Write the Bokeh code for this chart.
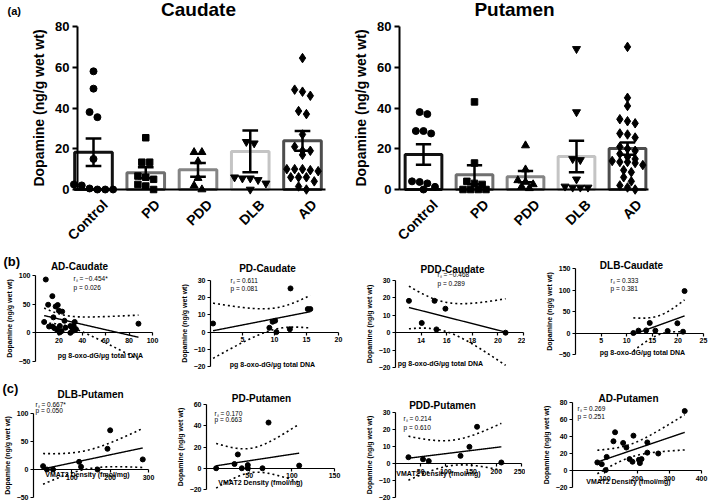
import numpy as np
from bokeh.plotting import figure
from bokeh.layouts import column, row
from bokeh.models import Label, FixedTicker, Range1d
from bokeh.embed import file_html
from bokeh.resources import INLINE

FONT = "Liberation Sans"

# ---------------- data ----------------
GROUPS = ["Control", "PD", "PDD", "DLB", "AD"]

caudate_control = [58, 49.5, 38, 35.5, 15, 2.5, 0.5, 0, 0, 0, 2]
caudate_pd = [25.4, 13.4, 13.4, 6.6, 6, 5, 2.5, 1.7, 0]
caudate_pdd = [18.3, 18.3, 13.8, 5.6, 1.9, 0]
caudate_dlb = [97.6, 23.4, 22.7, 6, 5.5, 5.5, 4.7, 3, 0]
caudate_ad = [92, 64.5, 49, 48, 46, 38.5, 37, 27, 21, 19, 19, 17, 10, 10, 10,
              9.5, 9, 6, 6, 6, 4, 1.5, 0]

putamen_control = [38, 37, 28.7, 28.7, 27.5, 4, 3.7, 3, 1.3, 0]
putamen_pd = [43, 13, 4, 3, 2.5, 0, 0, 0, 0]
putamen_pdd = [21.6, 9.8, 4.5, 3.7, 2.5, 1.4, 0.6]
putamen_dlb = [69, 38, 15, 14.5, 5, 1.5, 1, 1, 1]
putamen_ad = [70, 45, 41, 34.5, 33.5, 32.5, 27.5, 27, 25.5, 21, 20, 19, 17.5, 16,
              15, 14, 13.5, 13.5, 13, 12, 9.5, 8.5, 6, 4, 2, 1, 0]

ad_caudate_x = [8.8, 10.8, 14.4, 17.2, 19, 15.3, 20, 22.8, 24.8, 7.4, 11.6, 14.4, 16.3,
                18.6, 20.6, 22.3, 20.8, 25.6, 29.8, 31.2, 32.6, 29.8, 33.5, 34.6, 32, 88]
ad_caudate_y = [93, 49, 64, 46, 48.5, 27, 38.6, 37, 21, 19, 11, 11, 8,
                5, 0.6, 3, 12, 9, 12, 9, 12, 0, 19, 6.4, 3.5, 16]

pd_caudate_x = [0.4, 9.2, 9.7, 10.1, 10.3, 12.4, 12.5, 15.2, 15.6]
pd_caudate_y = [5, 2.5, 6, 6.6, 0, 1.7, 25.4, 13.4, 13.4]

pdd_caudate_x = [13.05, 14.05, 15.05, 15.2, 15.9, 20.6]
pdd_caudate_y = [18.3, 5.6, 18.3, 1.9, 13.8, 0]

dlb_caudate_x = [11.3, 12.3, 13.8, 14.5, 15.6, 18, 19.9, 21, 21.3]
dlb_caudate_y = [0, 5.5, 6, 23.4, 5.5, 4.7, 22.7, 3, 97.6]

dlb_putamen_x = [25, 35, 51, 119, 124, 167, 193, 200, 285]
dlb_putamen_y = [6, 0, 0, 13.7, 4.8, 0, 37, 70, 18]

pd_putamen_x = [11.3, 32.8, 36.7, 41.4, 48.4, 48.4, 65.6, 72.7, 108.6]
pd_putamen_y = [0, 4, 13, 0, 3, 0, 0, 43, 2.5]

pdd_putamen_x = [25.7, 54.6, 66, 129, 146.7, 161.8, 210]
pdd_putamen_y = [3.7, 2.5, 1.4, 4.5, 9.8, 21.6, 0.6]

ad_putamen_x = [77, 90.7, 103, 106, 127, 132, 157, 167, 177, 186, 189, 206, 209, 214,
                232, 232, 266, 348]
ad_putamen_y = [9.5, 7.5, 0.5, 16, 34.4, 45, 32.4, 27, 13.4, 10.3, 41, 12.6, 8.7, 13.4,
                33, 21, 20, 70]

# ---------------- styles ----------------
GROUP_MARKERS = ["circle", "square", "triangle", "inverted_triangle", "diamond"]
GROUP_SIZES = [7, 6.5, 8, 8, 9.5]
GROUP_COLORS = ["#111111", "#707070", "#858585", "#c4c4c4", "#4d4d4d"]

T95 = {1: 12.706, 2: 4.303, 3: 3.182, 4: 2.776, 5: 2.571, 6: 2.447, 7: 2.365, 8: 2.306,
       9: 2.262, 10: 2.228, 11: 2.201, 12: 2.179, 13: 2.160, 14: 2.145, 15: 2.131,
       16: 2.120, 17: 2.110, 18: 2.101, 19: 2.093, 20: 2.086, 21: 2.080, 22: 2.074,
       23: 2.069, 24: 2.064, 25: 2.060, 26: 2.056, 27: 2.052, 28: 2.048, 29: 2.045, 30: 2.042}


def make_fig(w, h, xmap, ymap):
    """Frame fills the whole canvas; ranges chosen so that given values land on given pixels."""
    (xv0, xp0), (xv1, xp1) = xmap
    sx = (xv1 - xv0) / (xp1 - xp0)
    x_start = xv0 - xp0 * sx
    (yv0, yp0), (yv1, yp1) = ymap
    sy = (yv1 - yv0) / (yp0 - yp1)
    y_end = yv1 + yp1 * sy
    p = figure(width=w, height=h,
               x_range=Range1d(x_start, x_start + w * sx),
               y_range=Range1d(y_end - h * sy, y_end),
               output_backend="svg", toolbar_location=None,
               min_border=0, min_border_left=0, min_border_right=0,
               min_border_top=0, min_border_bottom=0)
    p.grid.visible = False
    p.outline_line_color = None
    p.background_fill_color = "white"
    p.border_fill_color = "white"
    fx = lambda px: x_start + px * sx
    return p, fx


def add_text(p, h, x, y, text, size, style="normal", align="left", baseline="middle",
             angle=0.0):
    p.add_layout(Label(x=x, y=h - y, x_units="screen", y_units="screen", text=text,
                       text_font=FONT, text_font_size=f"{size}px", text_font_style=style,
                       text_align=align, text_baseline=baseline, text_color="black",
                       angle=angle))


def style_axis(ax, size, bold=True):
    ax.axis_line_color = "black"
    ax.major_tick_line_color = "black"
    ax.major_label_text_color = "black"
    ax.axis_label_text_color = "black"
    ax.major_label_text_font = FONT
    ax.major_label_text_font_size = f"{size}px"
    ax.major_label_text_font_style = "bold" if bold else "normal"
    ax.axis_label_text_font = FONT
    ax.axis_label_text_font_style = "bold"
    ax.minor_tick_out = 0
    ax.minor_tick_in = 0
    ax.major_tick_in = 0


def swarm_offsets(vals, tol, step):
    vals = np.asarray(vals, dtype=float)
    order = np.argsort(-vals, kind="stable")
    offs = np.zeros(len(vals))
    bins = []
    for i in order:
        if bins and abs(bins[-1][0] - vals[i]) <= tol:
            bins[-1][1].append(i)
        else:
            bins.append([vals[i], [i]])
    for _, idx in bins:
        k = len(idx)
        for j, i in enumerate(idx):
            offs[i] = (j - (k - 1) / 2) * step
    return offs


def bar_panel(w, h, series, cat_px, y_px, axis_px, title, title_pos, tag=None, tag_pos=None):
    p, fx = make_fig(w, h, ((0, cat_px[0]), (4, cat_px[1])), ((0, y_px[0]), (80, y_px[1])))
    idx = np.arange(len(series))
    means = np.array([np.mean(s) for s in series])
    sems = np.array([np.std(s, ddof=1) / np.sqrt(len(s)) for s in series])
    p.vbar(x=idx, top=means, bottom=0, width=0.72, fill_color="white",
           line_color=GROUP_COLORS, line_width=3)
    for i, vals in enumerate(series):
        vals = np.asarray(vals, dtype=float)
        offs = swarm_offsets(vals, 3.0, 0.15)
        keep = vals <= 80  # points above the axis top are off the chart
        p.scatter(i + offs[keep], vals[keep], marker=GROUP_MARKERS[i],
                  size=GROUP_SIZES[i], color="black")
    p.segment(x0=idx, y0=means - sems, x1=idx, y1=means + sems, line_width=2.5,
              color="black")
    for yy in (means - sems, means + sems):
        p.segment(x0=idx - 0.15, y0=yy, x1=idx + 0.15, y1=yy, line_width=2.5,
                  color="black")
    xa = p.xaxis[0]
    ya = p.yaxis[0]
    style_axis(xa, 14)
    style_axis(ya, 13)
    xa.fixed_location = 0
    xa.bounds = (fx(axis_px[0]), fx(axis_px[1]))
    xa.ticker = FixedTicker(ticks=[])
    xa.major_tick_out = 0
    xa.axis_line_width = 2
    ya.fixed_location = fx(axis_px[0])
    ya.bounds = (0, 80)
    ya.ticker = FixedTicker(ticks=[0, 20, 40, 60, 80])
    ya.axis_line_width = 2
    ya.major_tick_line_width = 2
    ya.major_tick_out = 5
    ya.major_label_standoff = 3
    ya.axis_label = "Dopamine (ng/g wet wt)"
    ya.axis_label_text_font_size = "14px"
    ya.axis_label_standoff = 5
    # rotated category names, right end just under each category
    step = (cat_px[1] - cat_px[0]) / (len(GROUPS) - 1)
    for i, g in enumerate(GROUPS):
        add_text(p, h, cat_px[0] + i * step + 6, y_px[0] + 7, g, 14, "bold",
                 "right", "top", np.pi / 4)
    add_text(p, h, title_pos[0], title_pos[1], title, 19, "bold", "center", "middle")
    if tag:
        add_text(p, h, tag_pos[0], tag_pos[1], tag, 11, "bold", "left", "middle")
    return p


def fit_band(xs, ys, n_pts=200):
    x = np.asarray(xs, dtype=float)
    y = np.asarray(ys, dtype=float)
    n = len(x)
    b, a = np.polyfit(x, y, 1)
    xg = np.linspace(x.min(), x.max(), n_pts)
    yhat = a + b * xg
    resid = y - (a + b * x)
    s = np.sqrt((resid ** 2).sum() / (n - 2))
    sxx = ((x - x.mean()) ** 2).sum()
    half = T95[n - 2] * s * np.sqrt(1 / n + (xg - x.mean()) ** 2 / sxx)
    return xg, yhat, yhat - half, yhat + half


def inside(arr, lo, hi):
    arr = np.array(arr, dtype=float)
    arr[(arr < lo) | (arr > hi)] = np.nan
    return arr


def scatter_panel(w, h, xs, ys, xb, xpx, yb, ypx, xticks, yticks, title, tpos,
                  rs, pv, apos, xlab, lpos, tag=None, tagpos=None):
    p, fx = make_fig(w, h, ((xb[0], xpx[0]), (xb[1], xpx[1])),
                     ((yb[0], ypx[0]), (yb[1], ypx[1])))
    xg, yhat, lo, hi = fit_band(xs, ys)
    p.line(xg, inside(yhat, *yb), line_width=1.4, color="black")
    p.line(xg, inside(lo, *yb), line_width=1.6, color="black", line_dash="2 3")
    p.line(xg, inside(hi, *yb), line_width=1.6, color="black", line_dash="2 3")
    p.scatter(xs, ys, marker="circle", size=5, color="black")
    xa = p.xaxis[0]
    ya = p.yaxis[0]
    xa.fixed_location = 0
    xa.bounds = xb
    xa.ticker = FixedTicker(ticks=xticks)
    ya.fixed_location = xb[0]
    ya.bounds = yb
    ya.ticker = FixedTicker(ticks=yticks)
    for ax in (xa, ya):
        style_axis(ax, 7)
        ax.axis_line_width = 1.2
        ax.major_tick_line_width = 1.2
        ax.major_tick_out = 3
        ax.major_label_standoff = 2
    ya.axis_label = "Dopamine (ng/g wet wt)"
    ya.axis_label_text_font_size = "7px"
    ya.axis_label_standoff = 3
    add_text(p, h, tpos[0], tpos[1], title, 10, "bold", "center", "middle")
    add_text(p, h, apos[0], apos[1], rs, 6.5)
    add_text(p, h, apos[0], apos[2], pv, 6.5)
    add_text(p, h, lpos[0], lpos[1], xlab, 7, "bold", "center", "middle")
    if tag:
        add_text(p, h, tagpos[0], tagpos[1], tag, 13, "bold", "left", "middle")
    return p


DNA = "pg 8-oxo-dG/\u00b5g total DNA"
VMAT = "VMAT2 Density (fmol/mg)"

caud = bar_panel(350, 255,
                 [caudate_control, caudate_pd, caudate_pdd, caudate_dlb, caudate_ad],
                 (93, 302), (189, 26), (77, 325), "Caudate", (198, 9), "(a)", (7, 10))
put = bar_panel(359, 255,
                [putamen_control, putamen_pd, putamen_pdd, putamen_dlb, putamen_ad],
                (73, 277), (189, 26), (49, 298), "Putamen", (164, 9))

b1 = scatter_panel(175, 120, ad_caudate_x, ad_caudate_y, (0, 100), (35, 152),
                   (-50, 100), (106, 20), [20, 40, 60, 80, 100], [-50, 0, 50, 100],
                   "AD-Caudate", (79, 11), "r\u209b = \u22120.454*", "p = 0.026",
                   (73, 23, 32), DNA, (100, 100), "(b)", (3, 6))
b2 = scatter_panel(175, 120, pd_caudate_x, pd_caudate_y, (0, 20), (35, 163),
                   (-20, 30), (111, 25), [5, 10, 15, 20], [-20, -10, 0, 10, 20, 30],
                   "PD-Caudate", (92, 13), "r\u209b = 0.611", "p = 0.081",
                   (55, 25, 33), DNA, (97, 109))
b3 = scatter_panel(175, 120, pdd_caudate_x, pdd_caudate_y, (12, 22), (45, 173),
                   (-20, 30), (112, 25), [14, 16, 18, 20, 22], [-20, -10, 0, 10, 20, 30],
                   "PDD-Caudate", (102, 14), "r\u209b = \u22120.468", "p = 0.289",
                   (87, 19, 28), DNA, (90, 108))
b4 = scatter_panel(184, 120, dlb_caudate_x, dlb_caudate_y, (0, 25), (50, 178),
                   (-50, 150), (99, 13), [5, 10, 15, 20, 25], [-50, 0, 50, 100, 150],
                   "DLB-Caudate", (106, 10), "r\u209b = 0.333", "p = 0.381",
                   (85, 25, 33), DNA, (117, 97))

c1 = scatter_panel(175, 125, dlb_putamen_x, dlb_putamen_y, (0, 300), (33, 148),
                   (-50, 100), (122, 38), [100, 200, 300], [-50, 0, 50, 100],
                   "DLB-Putamen", (90, 19), "r\u209b = 0.667*", "p = 0.050",
                   (35, 29, 35), VMAT, (87, 99), "(c)", (2, 13))
c2 = scatter_panel(175, 125, pd_putamen_x, pd_putamen_y, (0, 150), (31, 159),
                   (-20, 60), (114, 29), [50, 100, 150], [-20, 0, 20, 40, 60],
                   "PD-Putamen", (86, 23), "r\u209b = 0.170", "p = 0.663",
                   (39, 38, 44), VMAT, (85, 107))
c3 = scatter_panel(175, 125, pdd_putamen_x, pdd_putamen_y, (0, 250), (45, 171),
                   (-20, 30), (122, 37), [50, 100, 150, 200, 250], [-20, -10, 0, 10, 20, 30],
                   "PDD-Putamen", (92, 30), "r\u209b = 0.214", "p = 0.610",
                   (53, 43, 52), VMAT, (88, 98))
c4 = scatter_panel(184, 125, ad_putamen_x, ad_putamen_y, (0, 400), (47, 176),
                   (-20, 80), (112, 27), [100, 200, 300, 400], [-20, 0, 20, 40, 60, 80],
                   "AD-Putamen", (103, 23), "r\u209b = 0.269", "p = 0.251",
                   (52, 33, 41), VMAT, (103, 106))

layout = column(row(caud, put), row(b1, b2, b3, b4), row(c1, c2, c3, c4))

open("out.html", "w").write(file_html(layout, INLINE))
